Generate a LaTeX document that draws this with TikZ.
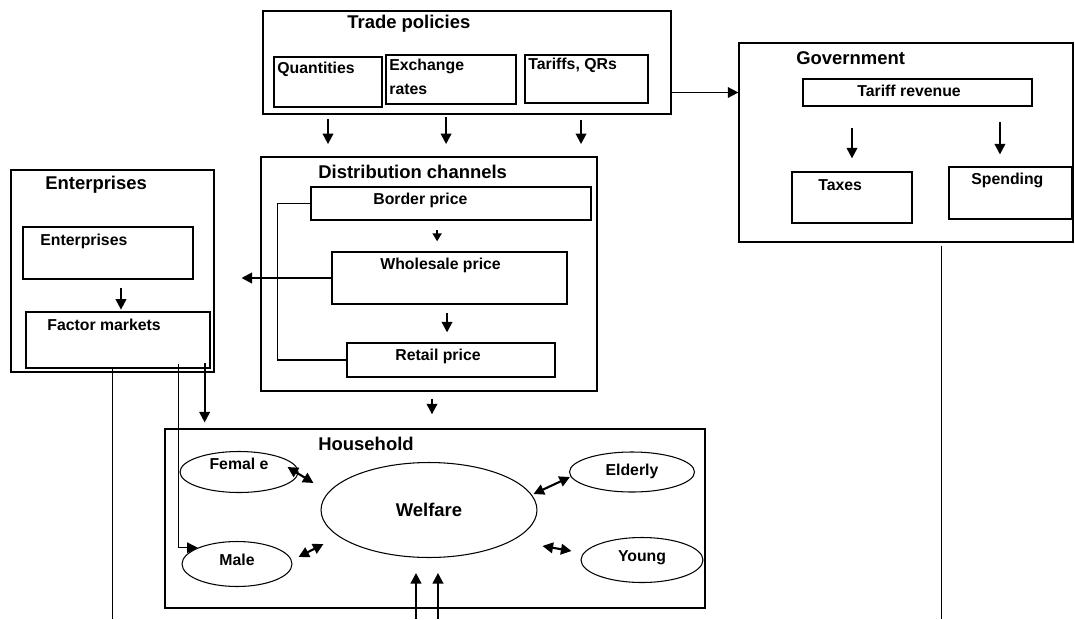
\documentclass[tikz,border=0pt]{standalone}
\usepackage{fontspec}
\setmainfont{Liberation Sans}
\usetikzlibrary{shapes.geometric,arrows.meta,calc,fit}
\def \lbl {\fontsize{9}{14}\selectfont\bfseries}
\def \ttl {\fontsize{10.5}{12}\selectfont\bfseries}

\begin{document}
\begin{tikzpicture}[x=0.02cm, y=-0.02cm, >={Triangle[length=6pt,width=6pt]},
        box/.style={draw, line width=0.7pt, inner sep=0pt, fit={#1}},
        oval/.style={draw, ellipse, line width=0.6pt, inner sep=0pt, font=\lbl},
        txt/.style={anchor=west, inner sep=0pt, font=\lbl},
        head/.style={anchor=west, inner sep=0pt, font=\ttl},
        arr/.style={->, line width=1.2pt},
        smallarr/.style={-{Triangle[length=4.5pt,width=5pt]}, line width=1.2pt},
        darr/.style={<->, line width=1.2pt}]
        \useasboundingbox (0,0) rectangle (1075,619);
        \coordinate (base) at (0,619);

        % Trade policies
        \node[box={(263,11) (671,114)}] (trade) {};
        \node[head] (tradet) at (347,24) {Trade policies};
        \node[box={(274,57) (382,107)}] (quant) {};
        \node[txt] (quantt) at (277,69) {Quantities};
        \node[box={(386,55) (516,104)}] (exch) {};
        \node[txt, align=left] (excht) at (389,77) {Exchange\\rates};
        \node[box={(525,55) (648,103)}] (tariff) {};
        \node[txt] (tarifft) at (528,65) {Tariffs, QRs};

        % Government
        \node[box={(739,43) (1073,242)}] (gov) {};
        \node[head] (govt) at (796,58) {Government};
        \node[box={(803,79) (1032,106)}] (trev) {};
        \node[txt] (trevt) at (857,91) {Tariff revenue};
        \node[box={(792,172) (912,223)}] (taxes) {};
        \node[txt] (taxest) at (818,185) {Taxes};
        \node[box={(949,167) (1072,219)}] (spend) {};
        \node[txt] (spendt) at (971,180) {Spending};

        % Distribution channels
        \node[box={(261,157) (597,391)}] (dist) {};
        \node[head] (distt) at (318,172) {Distribution channels};
        \node[box={(311,187) (591,220)}] (border) {};
        \node[txt] (bordert) at (373,200) {Border price};
        \node[box={(332,252) (567,304)}] (whole) {};
        \node[txt] (wholet) at (380,265) {Wholesale price};
        \node[box={(347,343) (555,377)}] (retail) {};
        \node[txt] (retailt) at (395,356) {Retail price};

        % Enterprises
        \node[box={(11,170) (214,372)}] (ent) {};
        \node[head] (entt) at (45,185) {Enterprises};
        \node[box={(23,227) (193,279)}] (entin) {};
        \node[txt] (entint) at (40,241) {Enterprises};
        \node[box={(26,312) (210,368)}] (factor) {};
        \node[txt] (factort) at (47,325) {Factor markets};

        % Household
        \node[box={(165,429) (705,608)}] (house) {};
        \node[head] (houset) at (318,444) {Household};
        \node[oval, text depth=9pt, minimum width=2.36cm, minimum height=0.82cm] (fem) at (239,472) {Femal e};
        \node[oval, text depth=5pt, minimum width=2.2cm, minimum height=0.9cm] (male) at (237,564) {Male};
        \node[oval, font=\ttl, minimum width=4.32cm, minimum height=1.9cm] (welf) at (429,510) {Welfare};
        \node[oval, text depth=3pt, minimum width=2.5cm, minimum height=0.8cm] (eld) at (632,472) {Elderly};
        \node[oval, text depth=4pt, minimum width=2.44cm, minimum height=0.9cm] (young) at (642,560) {Young};

        % Trade policies to distribution and government
        \draw[arr, shorten <=2.5pt, shorten >=7pt] (quant.south |- trade.south) -- (quant.south |- dist.north);
        \draw[arr, shorten <=1.5pt, shorten >=7pt] ([xshift=-2.8pt]exch.south |- trade.south) -- ([xshift=-2.8pt]exch.south |- dist.north);
        \draw[arr, shorten <=3.2pt, shorten >=7pt] ([xshift=-3.1pt]tariff.south |- trade.south) -- ([xshift=-3.1pt]tariff.south |- dist.north);
        \draw[arr, line width=0.9pt] (trade.east |- trev) -- (gov.west |- trev);

        % Tariff revenue
        \draw[arr, shorten <=11.9pt, shorten >=7.4pt] (taxes.north |- trev.south) -- (taxes.north);
        \draw[arr, shorten <=9pt, shorten >=6.8pt] ([xshift=-6pt]spend.north |- trev.south) -- ([xshift=-6pt]spend.north);

        % Prices
        \draw[smallarr, shorten <=5.4pt, shorten >=5.7pt] ([xshift=-7.9pt]border.south) -- ([xshift=-7.9pt]border.south |- whole.north);
        \draw[arr, shorten <=5pt, shorten >=5.7pt] ([xshift=-1.4pt]whole.south) -- ([xshift=-1.4pt]whole.south |- retail.north);
        \draw[line width=0.6pt] (border.west) -| ($(retail.west)+(-69,0)$) -- (retail.west);
        \draw[line width=0.6pt] (whole.west) -- ++(-34,0);
        \draw[arr, shorten >=15.3pt] ($(whole.west)+(-34,0)$) -- (ent.east |- whole.west);
        \draw[arr, shorten <=4pt, shorten >=8pt] ([xshift=1.7pt]dist.south) -- ([xshift=1.7pt]dist.south |- house.north);

        % Enterprises to household
        \draw[arr, shorten <=5pt, shorten >=1pt] ([xshift=1.7pt]factor.north |- entin.south) -- ([xshift=1.7pt]factor.north);
        \draw[arr, shorten >=3.4pt] ([xshift=-3.4pt,yshift=3.4pt]factor.south east) -- ([xshift=-3.4pt]factor.south east |- house.north);
        \draw[->, line width=0.6pt] ([xshift=-18.1pt,yshift=2.8pt]factor.south east) |- (male.north west);
        \draw[line width=0.6pt] ([xshift=-3.4pt]factor.south) -- ([xshift=-3.4pt]factor.south |- base);
        \draw[line width=0.6pt] ([xshift=20.4pt,yshift=-1.7pt]gov.south) -- ([xshift=20.4pt]gov.south |- base);

        % Welfare links
        \draw[darr] ($(fem.east)+(-11,-5)$) -- ($(welf.west)+(-7,-27)$);
        \draw[darr] ($(male.east)+(6,-7)$) -- ($(welf.west)+(3,34)$);
        \draw[darr] ($(welf.east)+(-4,-16)$) -- ($(eld.west)+(1,5)$);
        \draw[darr] ($(welf.east)+(5,36)$) -- ($(young.west)+(-9,-9)$);
        \draw[arr, shorten >=8.5pt] ([xshift=-7.4pt]welf.south |- base) -- ([xshift=-7.4pt]welf.south);
        \draw[arr, shorten >=8.5pt] ([xshift=5.1pt]welf.south |- base) -- ([xshift=5.1pt]welf.south);

    \end{tikzpicture}
\end{document}
